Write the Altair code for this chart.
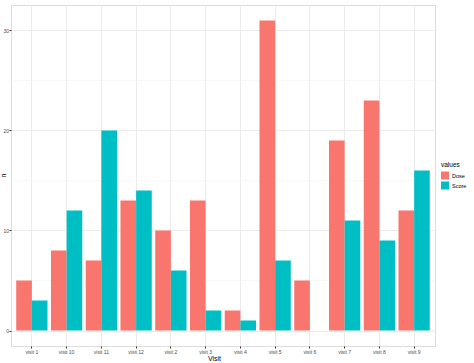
import altair as alt
import pandas as pd

visits = ["visit 1", "visit 10", "visit 11", "visit 12", "visit 2", "visit 3",
          "visit 4", "visit 5", "visit 6", "visit 7", "visit 8", "visit 9"]
dose = [5, 8, 7, 13, 10, 13, 2, 31, 5, 19, 23, 12]
score = [3, 12, 20, 14, 6, 2, 1, 7, 0, 11, 9, 16]
minor_ticks = [5, 15, 25]

rows = []
for v, d, s in zip(visits, dose, score):
    rows.append({"Visit": v, "values": "Dose", "n": d})
    rows.append({"Visit": v, "values": "Score", "n": s})
df = pd.DataFrame(rows)

FONT = "Liberation Sans"
ydom = [-1.55, 32.55]
yscale = alt.Scale(domain=ydom, nice=False, zero=False)
yaxis = alt.Axis(title="n", values=[0, 10, 20, 30], labelFontSize=5,
                 labelColor="#4d4d4d", tickColor="#333333", tickSize=2,
                 titleFontSize=6.5, titleFontWeight="normal",
                 titleX=-10.5, titleY=170, titleAngle=270, titleBaseline="top",
                 labelPadding=0.5, grid=True, gridColor="#ebebeb", domain=False)

bars = alt.Chart(df).mark_bar().encode(
    x=alt.X("Visit:N", sort=visits,
            scale=alt.Scale(paddingInner=0.1, paddingOuter=0.15),
            axis=alt.Axis(title="Visit", labelAngle=0, labelFontSize=5,
                          labelColor="#4d4d4d", tickColor="#333333", tickSize=2,
                          titleFontSize=7, titleFontWeight="normal",
                          titleX=203, titleY=15, titleBaseline="bottom",
                          titleAlign="center", labelPadding=1.5,
                          grid=True, gridColor="#ebebeb", domain=False)),
    xOffset=alt.XOffset("values:N", scale=alt.Scale(paddingInner=0, paddingOuter=0)),
    y=alt.Y("n:Q", scale=yscale, axis=yaxis),
    color=alt.Color("values:N",
                    scale=alt.Scale(domain=["Dose", "Score"], range=["#F8766D", "#00BFC4"]),
                    legend=alt.Legend(title="values", orient="none", legendX=430, legendY=157,
                                      symbolType="square", symbolSize=64, symbolStrokeWidth=0,
                                      titleFontSize=6.5, titleFontWeight="normal",
                                      labelFontSize=5.5, labelOffset=3, labelLimit=40,
                                      titlePadding=3, rowPadding=2)),
)

minor = alt.Chart(pd.DataFrame({"n": minor_ticks})).mark_rule(
    color="#f2f2f2", strokeWidth=0.6).encode(
    y=alt.Y("n:Q", scale=yscale, axis=yaxis))

chart = alt.layer(minor, bars).properties(
    width=424, height=341,
    autosize=alt.AutoSizeParams(type="none"),
    padding={"left": 11, "top": 5, "right": 39, "bottom": 17},
    background="white",
).configure_view(stroke="#888888", strokeWidth=1).configure(
    font=FONT
)

chart.save("out.html", embed_options={"renderer": "svg", "actions": False})
